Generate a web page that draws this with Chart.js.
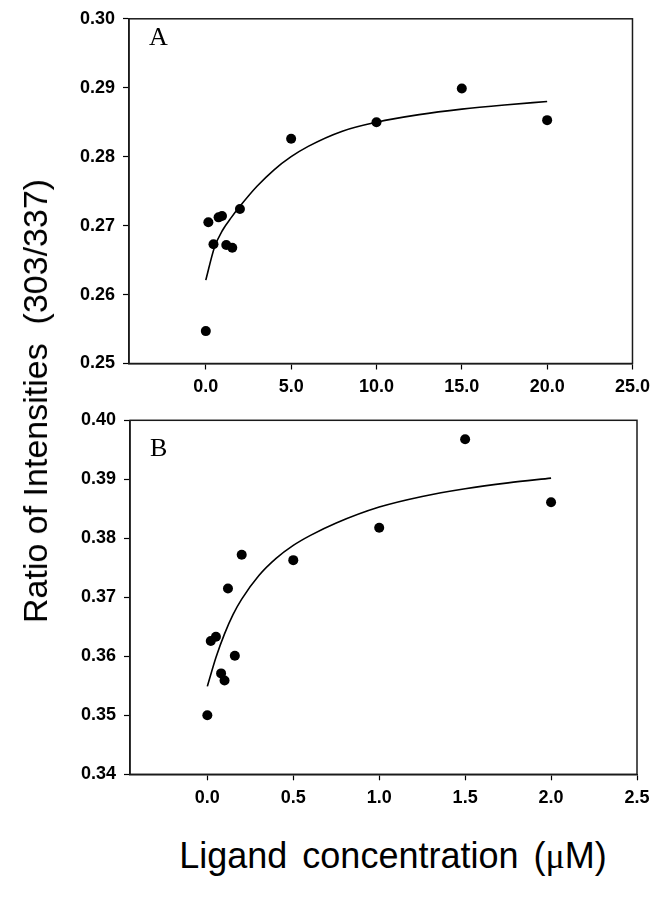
<!DOCTYPE html>
<html>
<head>
<meta charset="utf-8">
<script src="https://cdn.jsdelivr.net/npm/chart.js@4"></script>
<style>
  html, body { margin: 0; padding: 0; background: #fff; }
  #wrap { position: relative; width: 657px; height: 899px; overflow: hidden; background: #fff; }
  canvas { position: absolute; left: 0; }
  .ytitle { position: absolute; left: 35px; top: 401px; transform: translate(-50%, -50%) rotate(-90deg);
            font-family: 'Liberation Sans', Arial, sans-serif; font-size: 34px; color: #000; white-space: pre; line-height: 1; }
  .xtitle { position: absolute; left: 393px; top: 856px; transform: translate(-50%, -50%);
            font-family: 'Liberation Sans', Arial, sans-serif; font-size: 36px; color: #000; white-space: pre; line-height: 1; word-spacing: 5px; }
  .mu { font-family: 'Liberation Serif', 'Times New Roman', serif; }
  .plabel { position: absolute; font-family: 'Liberation Serif', 'Times New Roman', serif; font-size: 26px; color: #000; line-height: 1; }
</style>
</head>
<body>
<div id="wrap">
  <canvas id="chartA" width="657" height="400" style="top:0px"></canvas>
  <canvas id="chartB" width="657" height="420" style="top:400px"></canvas>
  <div class="plabel" style="left:149px; top:24px;">A</div>
  <div class="plabel" style="left:150px; top:435px;">B</div>
  <div class="ytitle">Ratio of Intensities  (303/337)</div>
  <div class="xtitle">Ligand concentration (<span class="mu">μ</span>M)</div>
</div>
<script>
// ---- Panel A data ----
const concA  = [0, 0.15, 0.45, 0.75, 0.95, 1.2, 1.55, 2.0, 5, 10, 15, 20];
const ratioA = [0.2547, 0.2705, 0.2673, 0.2712, 0.2714, 0.2672, 0.2668, 0.2724, 0.2826, 0.2850, 0.2899, 0.2853];
const fitConcA  = [0, 0.5, 1, 1.5, 2, 3, 4, 5, 6, 8, 10, 12.5, 15, 17.5, 20];
const fitRatioA = [0.2621, 0.2668, 0.2694, 0.2712, 0.2728, 0.2757, 0.2781, 0.2800, 0.2815, 0.2837, 0.2850, 0.2861, 0.2869, 0.2875, 0.2880];
const xTicksA = [0, 5, 10, 15, 20, 25];
const yTicksA = [0.25, 0.26, 0.27, 0.28, 0.29, 0.30];

// ---- Panel B data ----
const concB  = [0, 0.02, 0.05, 0.08, 0.10, 0.12, 0.16, 0.20, 0.50, 1.0, 1.5, 2.0];
const ratioB = [0.3500, 0.3626, 0.3633, 0.3571, 0.3559, 0.3715, 0.3601, 0.3772, 0.3763, 0.3818, 0.3968, 0.3861];
const fitConcB  = [0, 0.05, 0.1, 0.15, 0.2, 0.3, 0.4, 0.5, 0.6, 0.75, 1.0, 1.25, 1.5, 1.75, 2.0];
const fitRatioB = [0.3549, 0.3598, 0.3638, 0.3671, 0.3697, 0.3737, 0.3766, 0.3788, 0.3805, 0.3826, 0.3853, 0.3871, 0.3884, 0.3894, 0.3902];
const xTicksB = [0, 0.5, 1.0, 1.5, 2.0, 2.5];
const yTicksB = [0.34, 0.35, 0.36, 0.37, 0.38, 0.39, 0.40];

const tickFont = { family: "'Liberation Sans', Arial, sans-serif", size: 18, weight: 'bold' };

const framePlugin = {
  id: 'frame',
  afterDraw(chart) {
    const { ctx, chartArea: a } = chart;
    ctx.save();
    ctx.strokeStyle = '#1a1a1a';
    ctx.lineWidth = 1.5;
    ctx.strokeRect(a.left, a.top, a.right - a.left, a.bottom - a.top);
    ctx.restore();
  }
};

function pts(xs, ys) { return xs.map((x, i) => ({ x: x, y: ys[i] })); }

function makeChart(id, cfg) {
  return new Chart(document.getElementById(id), {
    type: 'scatter',
    data: {
      datasets: [
        { label: 'data', data: pts(cfg.xs, cfg.ys), pointRadius: 5, pointHoverRadius: 5,
          backgroundColor: '#000', borderColor: '#000', borderWidth: 0, showLine: false },
        { label: 'fit', data: pts(cfg.fx, cfg.fy), showLine: true, pointRadius: 0, pointHoverRadius: 0,
          borderColor: '#000', borderWidth: 1.6, fill: false, cubicInterpolationMode: 'monotone' }
      ]
    },
    options: {
      responsive: false,
      animation: false,
      devicePixelRatio: 1,
      layout: { padding: { top: cfg.padTop, right: 20, left: 0, bottom: 0 } },
      plugins: { legend: { display: false }, tooltip: { enabled: false }, title: { display: false } },
      scales: {
        x: {
          type: 'linear', position: 'bottom', min: cfg.xmin, max: cfg.xmax,
          afterFit: (s) => { s.height = cfg.xH; },
          afterBuildTicks: (s) => { s.ticks = cfg.xt.map(v => ({ value: v })); },
          ticks: { font: tickFont, color: '#000', padding: 7, maxRotation: 0, autoSkip: false,
                   callback: (v) => Number(v).toFixed(1) },
          grid: { display: true, drawOnChartArea: false, drawTicks: true, tickLength: 6, tickColor: '#000', tickWidth: 1.2 },
          border: { display: true, color: '#1a1a1a', width: 1.5 }
        },
        y: {
          type: 'linear', position: 'left', min: cfg.ymin, max: cfg.ymax,
          afterFit: (s) => { s.width = cfg.yW; },
          afterBuildTicks: (s) => { s.ticks = cfg.yt.map(v => ({ value: v })); },
          ticks: { font: tickFont, color: '#000', padding: 8, autoSkip: false,
                   callback: (v) => Number(v).toFixed(2) },
          grid: { display: true, drawOnChartArea: false, drawTicks: true, tickLength: 6, tickColor: '#000', tickWidth: 1.2 },
          border: { display: true, color: '#1a1a1a', width: 1.5 }
        }
      }
    },
    plugins: [framePlugin]
  });
}

makeChart('chartA', { xs: concA, ys: ratioA, fx: fitConcA, fy: fitRatioA, xt: xTicksA, yt: yTicksA,
  xmin: -4.5, xmax: 25, ymin: 0.25, ymax: 0.30, padTop: 11, xH: 36.5, yW: 129 });
makeChart('chartB', { xs: concB, ys: ratioB, fx: fitConcB, fy: fitRatioB, xt: xTicksB, yt: yTicksB,
  xmin: -0.45, xmax: 2.5, ymin: 0.34, ymax: 0.40, padTop: 20.3, xH: 45.7, yW: 130 });
</script>
</body>
</html>
